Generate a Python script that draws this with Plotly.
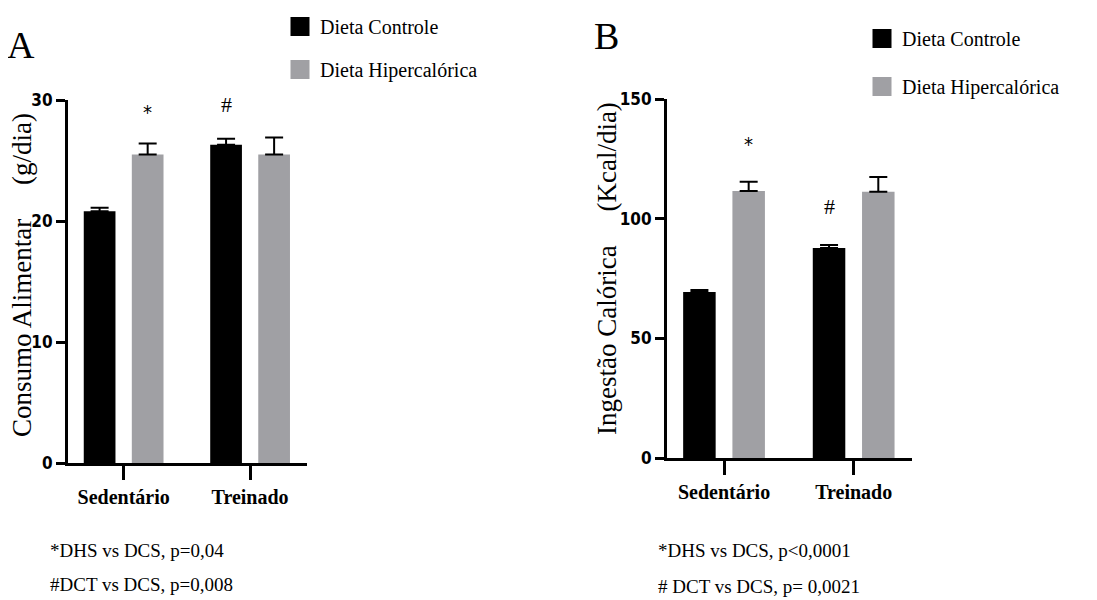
import plotly.graph_objects as go

categories = ["Sedentário", "Treinado"]
series_names = ["Dieta Controle", "Dieta Hipercalórica"]
colors = ["#000000", "#a0a0a4"]

# Panel A: Consumo Alimentar (g/dia)
a_controle = [20.8, 26.3]
a_controle_err = [0.3, 0.5]
a_hiper = [25.5, 25.5]
a_hiper_err = [0.9, 1.4]
a_ticks = [0, 10, 20, 30]

# Panel B: Ingestão Calórica (Kcal/dia)
b_controle = [69.4, 87.7]
b_controle_err = [0.8, 1.3]
b_hiper = [111.6, 111.2]
b_hiper_err = [3.8, 6.2]
b_ticks = [0, 50, 100, 150]

# page body has an 8px margin at left/top: figure sized to reach the window edges
OFF = 8
W, H = 1097 - OFF, 600 - OFF


def px(x):
    return (x - OFF) / W


def py(y):
    return 1 - (y - OFF) / H


SERIF = "Liberation Serif, Times New Roman, serif"
NARROW = "Liberation Sans Narrow, Arial Narrow, DejaVu Sans Condensed, sans-serif"

fig = go.Figure()


def add_bars(vals, errs, name, color, xa, ya):
    fig.add_trace(go.Bar(
        x=categories, y=vals, name=name, marker=dict(color=color, line=dict(width=0)),
        error_y=dict(type="data", symmetric=False, array=errs, arrayminus=[0] * len(errs),
                     color="black", thickness=2, width=9),
        xaxis=xa, yaxis=ya, showlegend=False, offsetgroup=name,
    ))


def add_key(name, color, xa, ya, legend, gap_group):
    # legend-only key entry (draws no mark in the plot area)
    fig.add_trace(go.Scatter(
        x=[None], y=[None], mode="markers", name=name,
        marker=dict(symbol="square", size=16, color=color, line=dict(color=color, width=3)),
        xaxis=xa, yaxis=ya, legend=legend, legendgroup=gap_group + name, hoverinfo="skip",
    ))


add_bars(a_controle, a_controle_err, series_names[0], colors[0], "x", "y")
add_bars(a_hiper, a_hiper_err, series_names[1], colors[1], "x", "y")
add_bars(b_controle, b_controle_err, series_names[0], colors[0], "x2", "y2")
add_bars(b_hiper, b_hiper_err, series_names[1], colors[1], "x2", "y2")
for nm, c in zip(series_names, colors):
    add_key(nm, c, "x", "y", "legend", "a")
for nm, c in zip(series_names, colors):
    add_key(nm, c, "x2", "y2", "legend2", "b")

xcommon = dict(type="category", showline=True, linewidth=3, linecolor="black",
               ticks="outside", ticklen=14, tickwidth=2.5, tickcolor="black",
               showgrid=False, zeroline=False, range=[-0.44, 1.45],
               tickfont=dict(family=SERIF, size=20, color="black", weight="bold"))
ycommon = dict(showline=True, linewidth=3, linecolor="black",
               ticks="outside", ticklen=9, tickwidth=3, tickcolor="black",
               showgrid=False, zeroline=False,
               tickfont=dict(family=NARROW, size=17, color="black", weight="bold"))

fig.update_layout(
    width=W, height=H, margin=dict(l=0, r=0, t=0, b=0, autoexpand=False),
    paper_bgcolor="white", plot_bgcolor="white",
    barmode="group", bargap=0.24, bargroupgap=0.34,
    xaxis=dict(domain=[px(68), px(307)], anchor="y", **xcommon),
    yaxis=dict(domain=[py(463), py(100)], anchor="x", range=[0, 30],
               tickvals=a_ticks, **ycommon),
    xaxis2=dict(domain=[px(667), px(912)], anchor="y2", **xcommon),
    yaxis2=dict(domain=[py(458), py(99)], anchor="x2", range=[0, 150],
                tickvals=b_ticks, **ycommon),
    legend=dict(x=px(280), y=py(7), xanchor="left", yanchor="top",
                font=dict(family=SERIF, size=20, color="black"), tracegroupgap=14,
                itemsizing="trace", bgcolor="rgba(0,0,0,0)"),
    legend2=dict(x=px(862), y=py(19), xanchor="left", yanchor="top",
                 font=dict(family=SERIF, size=20, color="black"), tracegroupgap=19,
                 itemsizing="trace", bgcolor="rgba(0,0,0,0)"),
    showlegend=True,
)

# Axis titles (rotated)
fig.add_annotation(x=px(22), y=py(275), xref="paper", yref="paper", xanchor="center", yanchor="middle",
                   text="Consumo Alimentar\u00a0\u00a0\u00a0\u00a0\u00a0(g/dia)", textangle=-90, showarrow=False,
                   font=dict(family=SERIF, size=27, color="black"))
fig.add_annotation(x=px(607), y=py(269), xref="paper", yref="paper", xanchor="center", yanchor="middle",
                   text="Ingestão Calórica\u00a0\u00a0\u00a0\u00a0\u00a0(Kcal/dia)", textangle=-90, showarrow=False,
                   font=dict(family=SERIF, size=27, color="black"))

# Significance marks
fig.add_annotation(x=0.19, y=29.0, xref="x", yref="y", text="*", showarrow=False,
                   font=dict(family=NARROW, size=20, color="black"))
fig.add_annotation(x=0.81, y=29.6, xref="x", yref="y", text="#", showarrow=False,
                   font=dict(family=SERIF, size=22, color="black"))
fig.add_annotation(x=0.19, y=131, xref="x2", yref="y2", text="*", showarrow=False,
                   font=dict(family=NARROW, size=20, color="black"))
fig.add_annotation(x=0.81, y=105, xref="x2", yref="y2", text="#", showarrow=False,
                   font=dict(family=SERIF, size=22, color="black"))

# Panel letters
fig.add_annotation(x=px(21), y=py(45), xref="paper", yref="paper", xanchor="center", yanchor="middle",
                   text="A", showarrow=False, font=dict(family=SERIF, size=38, color="black"))
fig.add_annotation(x=px(606), y=py(36), xref="paper", yref="paper", xanchor="center", yanchor="middle",
                   text="B", showarrow=False, font=dict(family=SERIF, size=38, color="black"))

# Footnotes
notes = [
    (48, 550, "*DHS vs DCS, p=0,04"),
    (48, 584, "#DCT vs DCS, p=0,008"),
    (656, 550, "*DHS vs DCS, p<0,0001"),
    (656, 586, "# DCT vs DCS, p= 0,0021"),
]
for nx, ny, txt in notes:
    fig.add_annotation(x=px(nx), y=py(ny), xref="paper", yref="paper", text=txt,
                       showarrow=False, xanchor="left", yanchor="middle",
                       font=dict(family=SERIF, size=19, color="black"))

fig.write_html("out.html")
